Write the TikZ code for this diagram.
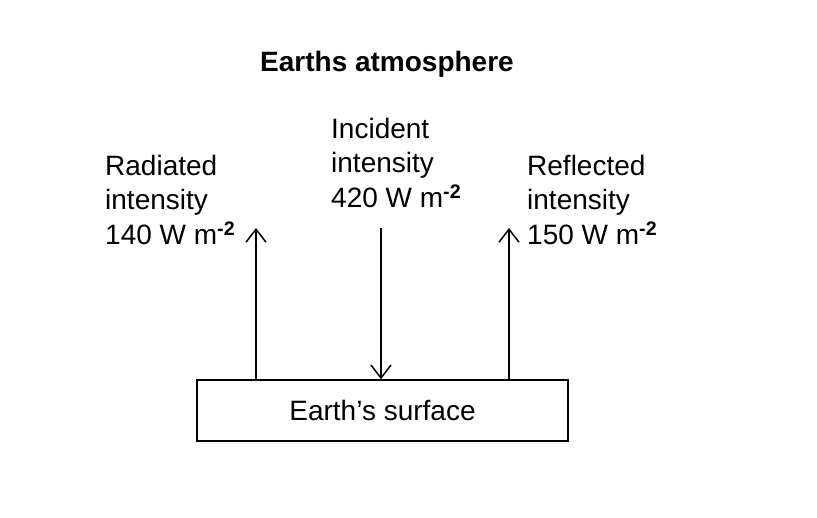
\documentclass[tikz,border=0pt]{standalone}
\usepackage{fontspec}
\setmainfont{Liberation Sans}
\usetikzlibrary{arrows.meta}
\newcommand{\supmtwo}{\textsuperscript{\bfseries -2}}
\tikzset{
  lbl/.style={anchor=north west,inner sep=0pt,align=left,font=\fontsize{28}{34.5}\selectfont},
  ttl/.style={anchor=north,inner sep=0pt,font=\fontsize{28}{34}\selectfont\bfseries},
  surfbox/.style={draw,line width=1.5pt,inner sep=0pt,minimum width=371pt,minimum height=61pt,font=\fontsize{28}{34}\selectfont},
  arr/.style={line width=1.5pt,-{Straight Barb[length=13pt,width=20pt,line width=1.5pt]}}
}
\begin{document}
\begin{tikzpicture}[x=1pt,y=-1pt]
\useasboundingbox (0,0) rectangle (817,517);
\node[ttl] (title) at (387,51) {Earths atmosphere};
\node[surfbox] (surf) at (382.5,410.5) {Earth’s surface};
\node[lbl] (rad) at (105,155) {Radiated\\intensity\\140 W m\supmtwo};
\node[lbl] (inc) at (331,118) {Incident\\intensity\\420 W m\supmtwo};
\node[lbl] (ref) at (527,155) {Reflected\\intensity\\150 W m\supmtwo};
\coordinate (ltop) at (256,228);
\coordinate (mtop) at (381,228);
\coordinate (rtop) at (509,228);
\draw[arr] (surf.north -| ltop) -- (ltop);
\draw[arr] (mtop) -- (surf.north -| mtop);
\draw[arr] (surf.north -| rtop) -- (rtop);
\end{tikzpicture}
\end{document}
